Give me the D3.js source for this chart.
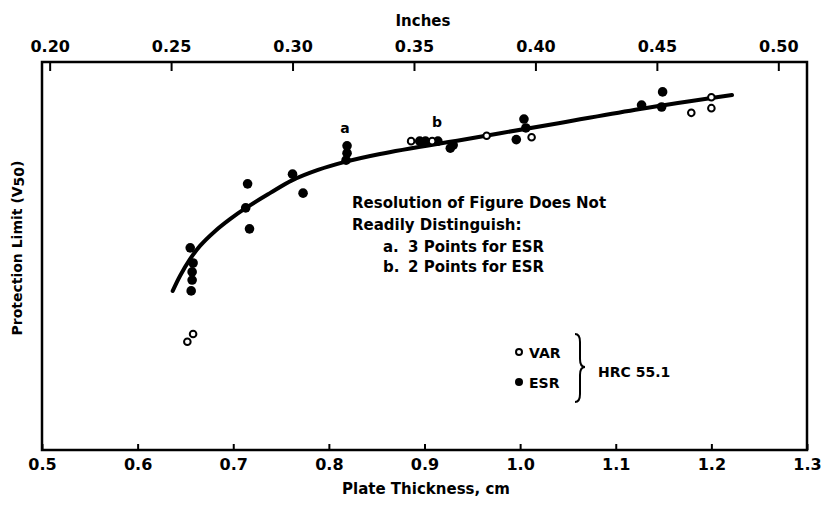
<!DOCTYPE html>
<html><head><meta charset="utf-8">
<script src="https://cdn.jsdelivr.net/npm/d3@7"></script>
<style>
body{margin:0;background:#fff}
svg text{font-family:"DejaVu Sans","Liberation Sans",sans-serif;font-weight:bold;fill:#000}
</style>
</head><body>
<svg id="c" width="823" height="505"></svg>
<script>
// ---- data ----
const cmTicks = [0.5,0.6,0.7,0.8,0.9,1.0,1.1,1.2,1.3];
const inchTicks = [0.20,0.25,0.30,0.35,0.40,0.45,0.50];
// ESR (filled) points: plate thickness (cm), relative V50
const esrX = [0.655,0.658,0.657,0.657,0.656,0.715,0.713,0.717,0.762,0.773,0.819,0.819,0.818,0.895,0.901,0.914,0.927,0.930,0.996,1.004,1.006,1.127,1.149,1.148];
const esrY = [52.1,48.2,45.9,43.8,41.0,68.6,62.4,57.0,71.1,66.2,78.4,76.5,74.7,79.6,79.6,79.6,77.8,78.6,80.0,85.3,83.0,88.9,92.3,88.4];
// VAR (open) points
const varX = [0.658,0.652,0.886,0.908,0.965,1.012,1.179,1.200,1.200];
const varY = [29.9,27.9,79.6,79.6,81.0,80.6,86.9,90.9,88.1];
// fitted curve
const curveX = [0.6367,0.6443,0.6548,0.6652,0.6809,0.6966,0.7133,0.7384,0.7614,0.7886,0.8158,0.8535,0.9476,1.0417,1.1254,1.2216];
const curveY = [41.0,44.85,49.2,52.6,56.4,59.5,62.4,66.2,69.5,72.2,74.2,76.3,80.3,84.3,87.9,91.5];

// ---- layout ----
const L=42,R=807,T=62,B=450;
const svg=d3.select("#c");
const x=d3.scaleLinear().domain([0.5,1.3]).range([L,R]);
const xi=d3.scaleLinear().domain([0.5/2.54,1.3/2.54]).range([L,R]);
const y=d3.scaleLinear().domain([0,100]).range([B,T]);

// bottom axis
const gb=svg.append("g").attr("transform",`translate(0,${B})`)
  .call(d3.axisBottom(x).tickValues(cmTicks).tickSize(-6).tickPadding(9).tickFormat(d3.format(".1f")));
gb.selectAll("text").style("font-size","16px");
// top axis
const gt=svg.append("g").attr("transform",`translate(0,${T})`)
  .call(d3.axisTop(xi).tickValues(inchTicks).tickSize(-9).tickPadding(10).tickFormat(d3.format(".2f")));
gt.selectAll("text").style("font-size","16px");
svg.selectAll(".domain").remove();
svg.selectAll(".tick line").attr("stroke","#000").attr("stroke-width",2);

// frame
svg.append("rect").attr("x",L).attr("y",T).attr("width",R-L).attr("height",B-T)
  .attr("fill","none").attr("stroke","#000").attr("stroke-width",2.5);

// titles
svg.append("text").attr("x",423).attr("y",26).attr("text-anchor","middle").style("font-size","15px").text("Inches");
svg.append("text").attr("x",426).attr("y",494).attr("text-anchor","middle").style("font-size","15px").text("Plate Thickness, cm");
const yl=svg.append("text").attr("transform","translate(22,248) rotate(-90)").attr("text-anchor","middle")
  .style("font-size","14px");
yl.append("tspan").text("Protection Limit (V");
yl.append("tspan").text("50").attr("dy",2);
yl.append("tspan").text(")").attr("dy",-2);

// curve
const cpts=curveX.map((d,i)=>[d,curveY[i]]);
svg.append("path").attr("d",d3.line().x(d=>x(d[0])).y(d=>y(d[1])).curve(d3.curveCatmullRom)(cpts))
  .attr("fill","none").attr("stroke","#000").attr("stroke-width",4).attr("stroke-linecap","round");

// points
svg.append("g").selectAll("circle").data(esrX.map((d,i)=>[d,esrY[i]])).join("circle")
  .attr("cx",d=>x(d[0])).attr("cy",d=>y(d[1])).attr("r",4.8).attr("fill","#000");
svg.append("g").selectAll("circle").data(varX.map((d,i)=>[d,varY[i]])).join("circle")
  .attr("cx",d=>x(d[0])).attr("cy",d=>y(d[1])).attr("r",3.3).attr("fill","#fff").attr("stroke","#000").attr("stroke-width",2);

// annotations
svg.append("text").attr("x",345).attr("y",133).attr("text-anchor","middle").style("font-size","14px").text("a");
svg.append("text").attr("x",437).attr("y",127).attr("text-anchor","middle").style("font-size","14px").text("b");
const note=[["Resolution of Figure Does Not",352,208],["Readily Distinguish:",352,230],["a.",383,252],["3 Points for ESR",408,252],["b.",383,272],["2 Points for ESR",408,272]];
note.forEach(n=>svg.append("text").attr("x",n[1]).attr("y",n[2]).style("font-size","15px").text(n[0]));

// legend
svg.append("circle").attr("cx",519).attr("cy",352).attr("r",3).attr("fill","#fff").attr("stroke","#000").attr("stroke-width",2);
svg.append("circle").attr("cx",519).attr("cy",382).attr("r",4).attr("fill","#000");
svg.append("text").attr("x",529).attr("y",358).style("font-size","14px").text("VAR");
svg.append("text").attr("x",529).attr("y",388).style("font-size","14px").text("ESR");
svg.append("path").attr("d","M575,334 Q580,334 580,342 L580,359 Q580,367 585,367 Q580,367 580,375 L580,394 Q580,402 575,402")
  .attr("fill","none").attr("stroke","#000").attr("stroke-width",2);
svg.append("text").attr("x",598).attr("y",377).style("font-size","14px").text("HRC 55.1");
</script>
</body></html>
